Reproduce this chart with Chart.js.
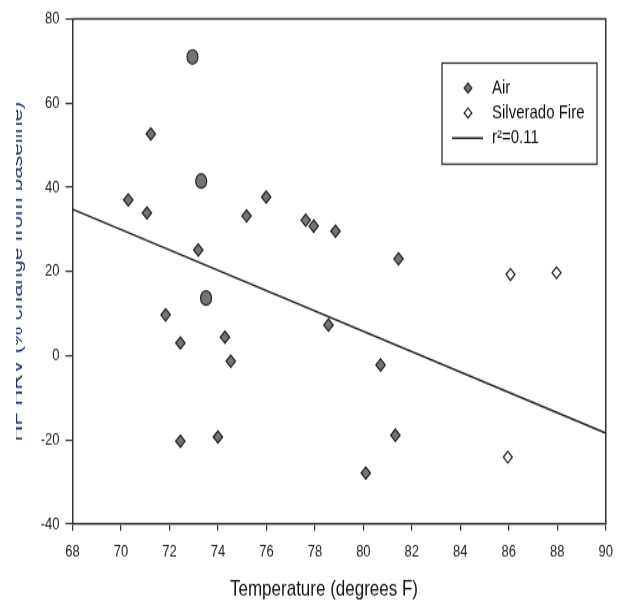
<!DOCTYPE html>
<html>
<head>
<meta charset="utf-8">
<title>HF HRV vs temperature</title>
<script src="https://cdn.jsdelivr.net/npm/chart.js@4.4.1/dist/chart.umd.min.js"></script>
<style>
  html, body { margin: 0; background: #fff; overflow: hidden; }
  /* the source figure is stretched vertically, so the chart is drawn short and scaled up */
  #wrap { position: absolute; left: 16px; top: 0; width: 605px; height: 466px; transform: scaleY(1.3004); transform-origin: 0 0; }
</style>
</head>
<body>
<div id="wrap"><canvas id="chart" width="605" height="466" style="width:605px;height:466px"></canvas></div>
<script>
// Air sessions
const airTemp = [72.95, 71.23, 73.31, 70.3, 71.07, 75.99, 75.18, 77.62, 77.95, 78.85, 73.19, 81.45,
                 73.51, 71.84, 78.56, 74.29, 72.45, 74.53, 80.71, 72.45, 74.0, 81.32, 80.1];
const airHrv = [71.0, 52.7, 41.5, 37.0, 33.9, 37.7, 33.2, 32.2, 30.8, 29.6, 25.1, 23.0,
                13.7, 9.7, 7.3, 4.4, 3.0, -1.3, -2.2, -20.3, -19.3, -18.9, -27.9];
const airLarge = [0, 2, 12]; // indices plotted with the bigger circle

// Silverado Fire sessions
const fireTemp = [86.07, 87.97, 85.96];
const fireHrv = [19.3, 19.7, -24.1];

// regression line, r2 = 0.11
const fitTemp = [68, 90];
const fitHrv = [34.8, -18.4];

const xTicks = [68, 70, 72, 74, 76, 78, 80, 82, 84, 86, 88, 90];
const yTicks = [-40, -20, 0, 20, 40, 60, 80];

const FONT = "'Liberation Sans', Arial, sans-serif";
const K = 1.3004;

function pts(xs, ys) {
  return xs.map((x, i) => ({ x: x, y: ys[i] }));
}

const frame = {
  id: 'frame',
  beforeDatasetsDraw(chart) {
    const a = chart.chartArea, ctx = chart.ctx;
    ctx.save();
    ctx.strokeStyle = '#333';
    ctx.lineWidth = 1.5;
    ctx.beginPath();
    ctx.moveTo(a.left, a.top);
    ctx.lineTo(a.right, a.top);
    ctx.lineTo(a.right, a.bottom);
    ctx.stroke();
    ctx.restore();
  }
};

// x title sits left of the axis centre in the original
const xTitle = {
  id: 'xTitle',
  afterDraw(chart) {
    const ctx = chart.ctx;
    ctx.save();
    ctx.fillStyle = '#111';
    ctx.font = '17px ' + FONT;
    ctx.textAlign = 'center';
    ctx.textBaseline = 'middle';
    ctx.fillText('Temperature (degrees F)', 308, 590 / K);
    ctx.restore();
  }
};

const boxLegend = {
  id: 'boxLegend',
  afterDraw(chart) {
    const ctx = chart.ctx;
    const rows = [67.7, 86.9, 106.2];
    const mx = 452, tx = 476;
    const sym = { pointStyle: 'rectRot', radius: 3.8, borderWidth: 1.2 };
    ctx.save();
    ctx.strokeStyle = '#222';
    ctx.lineWidth = 1.2;
    ctx.strokeRect(426, 48.5, 155, 77.7);

    ctx.fillStyle = '#747474';
    Chart.helpers.drawPoint(ctx, sym, mx, rows[0]);
    ctx.fillStyle = '#fff';
    Chart.helpers.drawPoint(ctx, sym, mx, rows[1]);
    ctx.lineWidth = 1.5;
    ctx.beginPath();
    ctx.moveTo(436, rows[2]);
    ctx.lineTo(467, rows[2]);
    ctx.stroke();

    ctx.fillStyle = '#111';
    ctx.font = '15px ' + FONT;
    ctx.textBaseline = 'middle';
    ctx.textAlign = 'left';
    ctx.fillText('Air', tx, rows[0]);
    ctx.fillText('Silverado Fire', tx, rows[1]);
    ctx.fillText('r\u00B2=0.11', tx, rows[2]);
    ctx.restore();
  }
};

const chart = new Chart(document.getElementById('chart'), {
  type: 'scatter',
  data: {
    datasets: [
      {
        label: 'Air',
        data: pts(airTemp, airHrv),
        backgroundColor: '#747474',
        borderColor: '#222',
        borderWidth: 1.2,
        pointStyle: c => airLarge.includes(c.dataIndex) ? 'circle' : 'rectRot',
        pointRadius: c => airLarge.includes(c.dataIndex) ? 5.5 : 4.7,
        order: 1
      },
      {
        label: 'Silverado Fire',
        data: pts(fireTemp, fireHrv),
        backgroundColor: '#fff',
        borderColor: '#222',
        borderWidth: 1.2,
        pointStyle: 'rectRot',
        pointRadius: 4.5,
        order: 1
      },
      {
        type: 'line',
        label: 'r\u00B2=0.11',
        data: pts(fitTemp, fitHrv),
        borderColor: '#222',
        borderWidth: 1.5,
        pointRadius: 0,
        fill: false,
        order: 3
      }
    ]
  },
  options: {
    responsive: false,
    animation: false,
    devicePixelRatio: 1,
    layout: { padding: { top: 19 / K, right: 7.7, bottom: 0, left: 0 } },
    plugins: {
      legend: { display: false },
      tooltip: { enabled: false }
    },
    scales: {
      x: {
        type: 'linear',
        min: 68,
        max: 90,
        afterBuildTicks: s => { s.ticks = xTicks.map(v => ({ value: v })); },
        afterFit: s => { s.height = 466 - 524 / K; },
        grid: { drawOnChartArea: false, tickLength: 7 / K, color: '#333', lineWidth: 1.2 },
        border: { color: '#333', width: 1.5 },
        ticks: { color: '#222', padding: 8, font: { family: FONT, size: 13 } }
      },
      y: {
        type: 'linear',
        min: -40,
        max: 80,
        afterBuildTicks: s => { s.ticks = yTicks.map(v => ({ value: v })); },
        afterFit: s => { s.width = 56.5; },
        grid: { drawOnChartArea: false, tickLength: 7, color: '#333', lineWidth: 1.2 },
        border: { color: '#333', width: 1.5 },
        ticks: { color: '#222', padding: 6, font: { family: FONT, size: 13 } },
        title: {
          display: true,
          text: 'HF HRV (% change from baseline)',
          color: '#1c3470',
          padding: { top: -9, bottom: 0 },
          font: { family: FONT, size: 17 }
        }
      }
    }
  },
  plugins: [frame, xTitle, boxLegend]
});
</script>
</body>
</html>
